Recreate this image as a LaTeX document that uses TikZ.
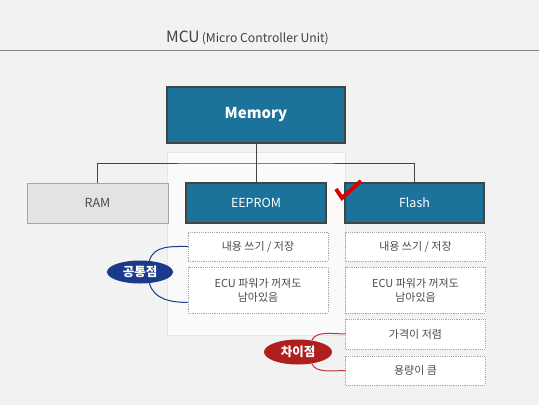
\documentclass[tikz,border=0pt]{standalone}
\usepackage{fontspec}
\setmainfont{Noto Sans CJK KR}
\usetikzlibrary{shapes.geometric}
\definecolor{paper}{HTML}{F2F2F2}
\definecolor{memblue}{HTML}{1B729B}
\definecolor{edgegray}{HTML}{444444}
\definecolor{inkblue}{HTML}{1C3A8C}
\definecolor{inkred}{HTML}{B01E1E}

\begin{document}
\begin{tikzpicture}[x=1pt, y=-1pt,
	bluebox/.style={draw=edgegray, line width=1.1pt, fill=memblue, text=white, inner sep=0pt},
	graybox/.style={draw=gray!70, line width=0.8pt, fill=gray!22, text=black!70, inner sep=0pt},
	notebox/.style={draw=gray!70, dash pattern=on 1.2pt off 1pt, line width=0.5pt, fill=white, text=black!70, inner sep=0pt, minimum width=140pt, align=center, font=\fontsize{11}{14}\selectfont},
	tag/.style={ellipse, inner sep=0pt, text=white, font=\bfseries\fontsize{12.5}{12.5}\selectfont},
	link/.style={line width=1pt}]
\fill[paper] (0,0) rectangle (539,405);
\useasboundingbox (0,0) rectangle (539,405);
\node[anchor=base west, text=black!75, inner sep=0pt] (title) at (166,42) {{\fontsize{15.5}{15.5}\selectfont MCU} {\fontsize{12.2}{12.2}\selectfont(Micro Controller Unit)}};
\draw[gray, line width=1pt] (0,50) -- (539,50);
\draw[gray!20, fill=white!60!paper] (167,152) rectangle (345,335);
\node[bluebox, minimum width=178pt, minimum height=56pt, font=\bfseries\fontsize{15}{15}\selectfont] (mem) at (256,115) {Memory};
\node[graybox, minimum width=141pt, minimum height=40pt, font=\fontsize{12.5}{12.5}\selectfont] (ram) at (97.5,203) {RAM};
\node[bluebox, minimum width=140pt, minimum height=40pt, font=\fontsize{12.5}{12.5}\selectfont] (eeprom) at (256,203) {EEPROM};
\node[bluebox, minimum width=139pt, minimum height=40pt, font=\fontsize{12.5}{12.5}\selectfont] (flash) at (414.5,203) {Flash};
\coordinate (fork) at (256,163);
\draw[edgegray, line width=1pt] (mem.south) -- (eeprom.north);
\draw[edgegray, line width=1pt] (ram.north) |- (fork) -| (flash.north);
\draw[red!85!black, line width=4pt] (336,189) -- (342,198) -- (361,181);
\node[notebox, minimum height=29pt] (ewrite) at (258,246.5) {내용 쓰기 / 저장};
\node[notebox, minimum height=46pt] (ekeep) at (258,290) {ECU 파워가 꺼져도\\남아있음};
\node[notebox, minimum height=29pt] (fwrite) at (415.5,246.5) {내용 쓰기 / 저장};
\node[notebox, minimum height=46pt] (fkeep) at (415.5,290) {ECU 파워가 꺼져도\\남아있음};
\node[notebox, minimum height=30pt] (cheap) at (415.5,334) {가격이 저렴};
\node[notebox, minimum height=29pt] (large) at (415.5,370.5) {용량이 큼};
\node[tag, fill=inkblue, minimum width=66pt, minimum height=23pt] (common) at (140,272) {공통점};
\node[tag, fill=inkred, minimum width=68pt, minimum height=25pt] (differ) at (298,352) {차이점};
\draw[link, inkblue] (common.50) to[out=75, in=180] (ewrite.west);
\draw[link, inkblue] (common.-50) to[out=-75, in=180] (ekeep.190);
\draw[link, inkred!90] (differ.40) to[out=70, in=180, looseness=0.8] (cheap.west);
\draw[link, inkred!90] (differ.-40) to[out=-70, in=180, looseness=0.8] (large.west);
\end{tikzpicture}
\end{document}
